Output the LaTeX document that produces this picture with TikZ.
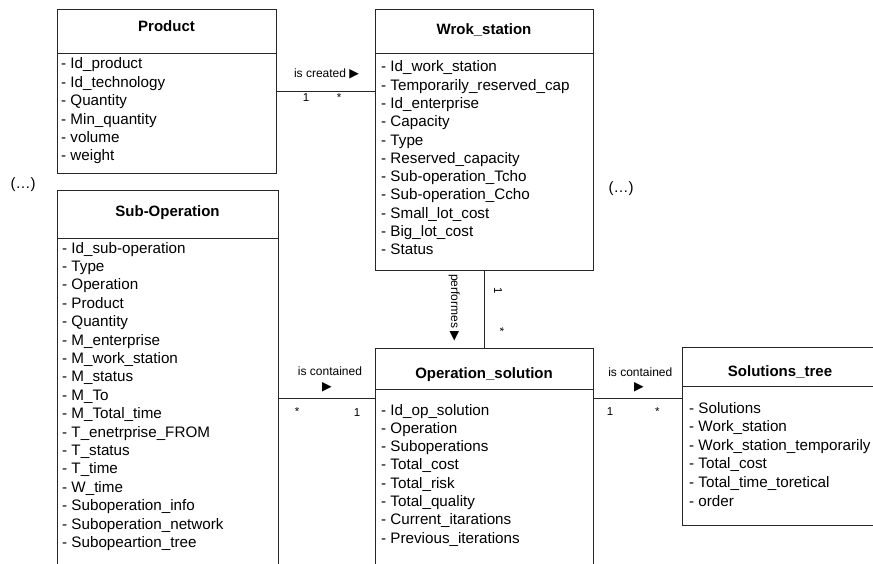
\documentclass[tikz,border=0pt]{standalone}
\usepackage{fontspec}
\setmainfont{Liberation Sans}
\newfontfamily\arrowfont{DejaVu Sans}
\newcommand{\dirmark}{{\arrowfont\fontsize{12.5}{14}\selectfont ▶}}
\begin{document}
\begin{tikzpicture}[x=1pt,y=-1pt,
  classbox/.style={draw=black!85, line width=1pt, inner sep=0pt, outer sep=0pt, anchor=north west},
  sep/.style={draw=black!85, line width=1pt},
  title/.style={font=\fontsize{15}{18}\selectfont\bfseries, anchor=base, inner sep=0pt},
  attr/.style={font=\fontsize{15.2}{18}\selectfont, anchor=base west, inner sep=0pt},
  lbl/.style={font=\fontsize{12}{14}\selectfont, anchor=base, inner sep=0pt},
  mult/.style={font=\fontsize{11.5}{14}\selectfont, anchor=base, inner sep=0pt},
  link/.style={draw=black!85, line width=1pt},
  etc/.style={font=\fontsize{15}{18}\selectfont, inner sep=0pt}
]
\useasboundingbox (0,0) rectangle (873,563);
\clip (0,0) rectangle (873,563);

% class boxes
\node[classbox, minimum width=219pt, minimum height=164pt] (product) at (57,9) {};
\node[classbox, minimum width=218pt, minimum height=261pt] (work) at (375,9) {};
\node[classbox, minimum width=221pt, minimum height=420pt] (subop) at (57,190) {};
\node[classbox, minimum width=218pt, minimum height=260pt] (opsol) at (375,348) {};
\node[classbox, minimum width=196pt, minimum height=178pt] (soltree) at (682,347) {};

% header separators
\draw[sep] (product.west |- 0,53) -- (product.east |- 0,53);
\draw[sep] (work.west |- 0,53) -- (work.east |- 0,53);
\draw[sep] (subop.west |- 0,238) -- (subop.east |- 0,238);
\draw[sep] (opsol.west |- 0,389) -- (opsol.east |- 0,389);
\draw[sep] (soltree.west |- 0,386) -- (soltree.east |- 0,386);

% titles
\node[title] (product-t) at (166.5,31.5) {Product};
\node[title] (work-t) at (484,34) {Wrok\_station};
\node[title] (subop-t) at (167.5,216.7) {Sub-Operation};
\node[title] (opsol-t) at (484,378.3) {Operation\_solution};
\node[title] (soltree-t) at (780,376.7) {Solutions\_tree};

% attributes
\foreach \t [count=\i] in {- Id\_product, - Id\_technology, - Quantity, - Min\_quantity, - volume, - weight}
  \node[attr] (product-\i) at (61,{68.8+18.4*(\i-1)}) {\t};
\foreach \t [count=\i] in {- Id\_work\_station, - Temporarily\_reserved\_cap, - Id\_enterprise, - Capacity, - Type, - Reserved\_capacity, - Sub-operation\_Tcho, - Sub-operation\_Ccho, - Small\_lot\_cost, - Big\_lot\_cost, - Status}
  \node[attr] (work-\i) at (381,{71.8+18.3*(\i-1)}) {\t};
\foreach \t [count=\i] in {- Id\_sub-operation, - Type, - Operation, - Product, - Quantity, - M\_enterprise, - M\_work\_station, - M\_status, - M\_To, - M\_Total\_time, - T\_enetrprise\_FROM, - T\_status, - T\_time, - W\_time, - Suboperation\_info, - Suboperation\_network, - Subopeartion\_tree}
  \node[attr] (subop-\i) at (62,{253+18.4*(\i-1)}) {\t};
\foreach \t [count=\i] in {- Id\_op\_solution, - Operation, - Suboperations, - Total\_cost, - Total\_risk, - Total\_quality, - Current\_itarations, - Previous\_iterations}
  \node[attr] (opsol-\i) at (381,{415+18.3*(\i-1)}) {\t};
\foreach \t [count=\i] in {- Solutions, - Work\_station, - Work\_station\_temporarily, - Total\_cost, - Total\_time\_toretical, - order}
  \node[attr] (soltree-\i) at (689,{413+18.6*(\i-1)}) {\t};

% associations
\draw[link] (product.east |- 0,91) -- (work.west |- 0,91);
\node[lbl] (created) at (326.5,77) {is created \dirmark};
\node[mult] (created-a) at (306,101.7) {1};
\node[mult] (created-b) at (339,101.7) {*};

\draw[link] (work.south) -- (opsol.north);
\node[lbl, rotate=-90] (performs) at (451,307.5) {performes \dirmark};
\node[mult, rotate=-90] (performs-a) at (494,291) {1};
\node[mult, rotate=-90] (performs-b) at (496,330) {*};

\draw[link] (subop.east |- 0,398) -- (opsol.west |- 0,398);
\node[lbl] (contL) at (330,375) {is contained};
\node[lbl] (contL-arrow) at (327,390.5) {\dirmark};
\node[mult] (contL-a) at (297,415) {*};
\node[mult] (contL-b) at (357,416.7) {1};

\draw[link] (opsol.east |- 0,398) -- (soltree.west |- 0,398);
\node[lbl] (contR) at (640.3,376) {is contained};
\node[lbl] (contR-arrow) at (639,390.5) {\dirmark};
\node[mult] (contR-a) at (610,415) {1};
\node[mult] (contR-b) at (657.3,415) {*};

% elided parts
\node[etc] (more-left) at (23,185) {(…)};
\node[etc] (more-right) at (621,189) {(…)};
\end{tikzpicture}
\end{document}
